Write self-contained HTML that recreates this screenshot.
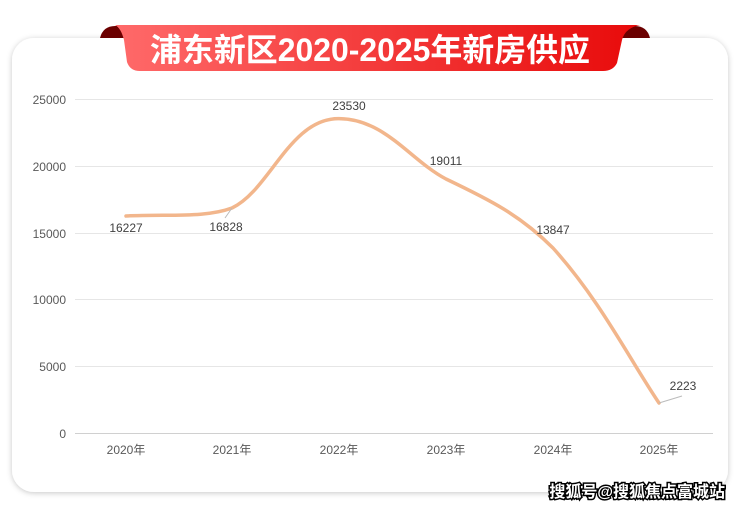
<!DOCTYPE html>
<html><head><meta charset="utf-8"><style>
body{margin:0;width:740px;height:509px;background:#fff;overflow:hidden;font-family:"Liberation Sans","Noto Sans CJK SC",sans-serif;}
</style></head><body>
<svg width="740" height="509" viewBox="0 0 740 509" xmlns="http://www.w3.org/2000/svg">
<defs>
<linearGradient id="rg" x1="0" x2="1"><stop offset="0" stop-color="#ff6a6a"/><stop offset="1" stop-color="#e80a0a"/></linearGradient>
<filter id="sh" x="-5%" y="-5%" width="110%" height="115%"><feDropShadow dx="0" dy="1" stdDeviation="3" flood-color="#000" flood-opacity="0.22"/></filter>
</defs>
<rect x="12" y="38" width="716" height="454" rx="22" fill="#fff" filter="url(#sh)"/>
<path d="M100 38 Q103 26 115 26 L130 26 L132 38 Z" fill="#6b0000"/>
<path d="M650 38 Q647 26 635 26 L620 26 L618 38 Z" fill="#6b0000"/>
<path d="M115 25 L640 25 Q625 28 622 40 L617 63 Q613 71 603 71 L140 71 Q130 71 127 62 L124 40 Q121 28 115 25 Z" fill="url(#rg)"/>
<text x="370" y="61" text-anchor="middle" font-size="32" font-weight="bold" fill="#fff" textLength="440" lengthAdjust="spacingAndGlyphs" font-family="Liberation Sans,Noto Sans CJK SC,sans-serif">浦东新区2020-2025年新房供应</text>
<g stroke="#e6e6e6" stroke-width="1">
<line x1="75" x2="713" y1="99.5" y2="99.5"/><line x1="75" x2="713" y1="166.5" y2="166.5"/><line x1="75" x2="713" y1="233.5" y2="233.5"/><line x1="75" x2="713" y1="299.5" y2="299.5"/><line x1="75" x2="713" y1="366.5" y2="366.5"/><line x1="75" x2="713" y1="433.5" y2="433.5" stroke="#d0d0d0"/>
</g>
<g font-size="12" fill="#595959" text-anchor="end">
<text x="66" y="104">25000</text><text x="66" y="171">20000</text><text x="66" y="238">15000</text><text x="66" y="304">10000</text><text x="66" y="371">5000</text><text x="66" y="438">0</text>
</g>
<g font-size="12" fill="#595959" text-anchor="middle">
<text x="126" y="454">2020年</text><text x="232" y="454">2021年</text><text x="339" y="454">2022年</text><text x="446" y="454">2023年</text><text x="553" y="454">2024年</text><text x="659" y="454">2025年</text>
</g>
<path d="M126 216 C170 214 205 218 232 208 C270 190 290 118 339 118.6 C385 119 410 160 446 179 C490 200 520 215 553 248 C600 300 630 360 659 403" fill="none" stroke="#f2b68c" stroke-width="3.5" stroke-linecap="round"/>
<line x1="232" y1="208" x2="225" y2="218" stroke="#bbb"/>
<line x1="659" y1="403" x2="682" y2="396" stroke="#bbb"/>
<g font-size="12" fill="#404040" text-anchor="middle">
<text x="126" y="232">16227</text><text x="226" y="231">16828</text><text x="349" y="110">23530</text><text x="446" y="165">19011</text><text x="553" y="234">13847</text><text x="683" y="390">2223</text>
</g>
<text x="725" y="497" text-anchor="end" font-size="16" font-weight="bold" fill="#fff" stroke="#000" stroke-width="3" paint-order="stroke">搜狐号@搜狐焦点富城站</text>
</svg>
</body></html>
